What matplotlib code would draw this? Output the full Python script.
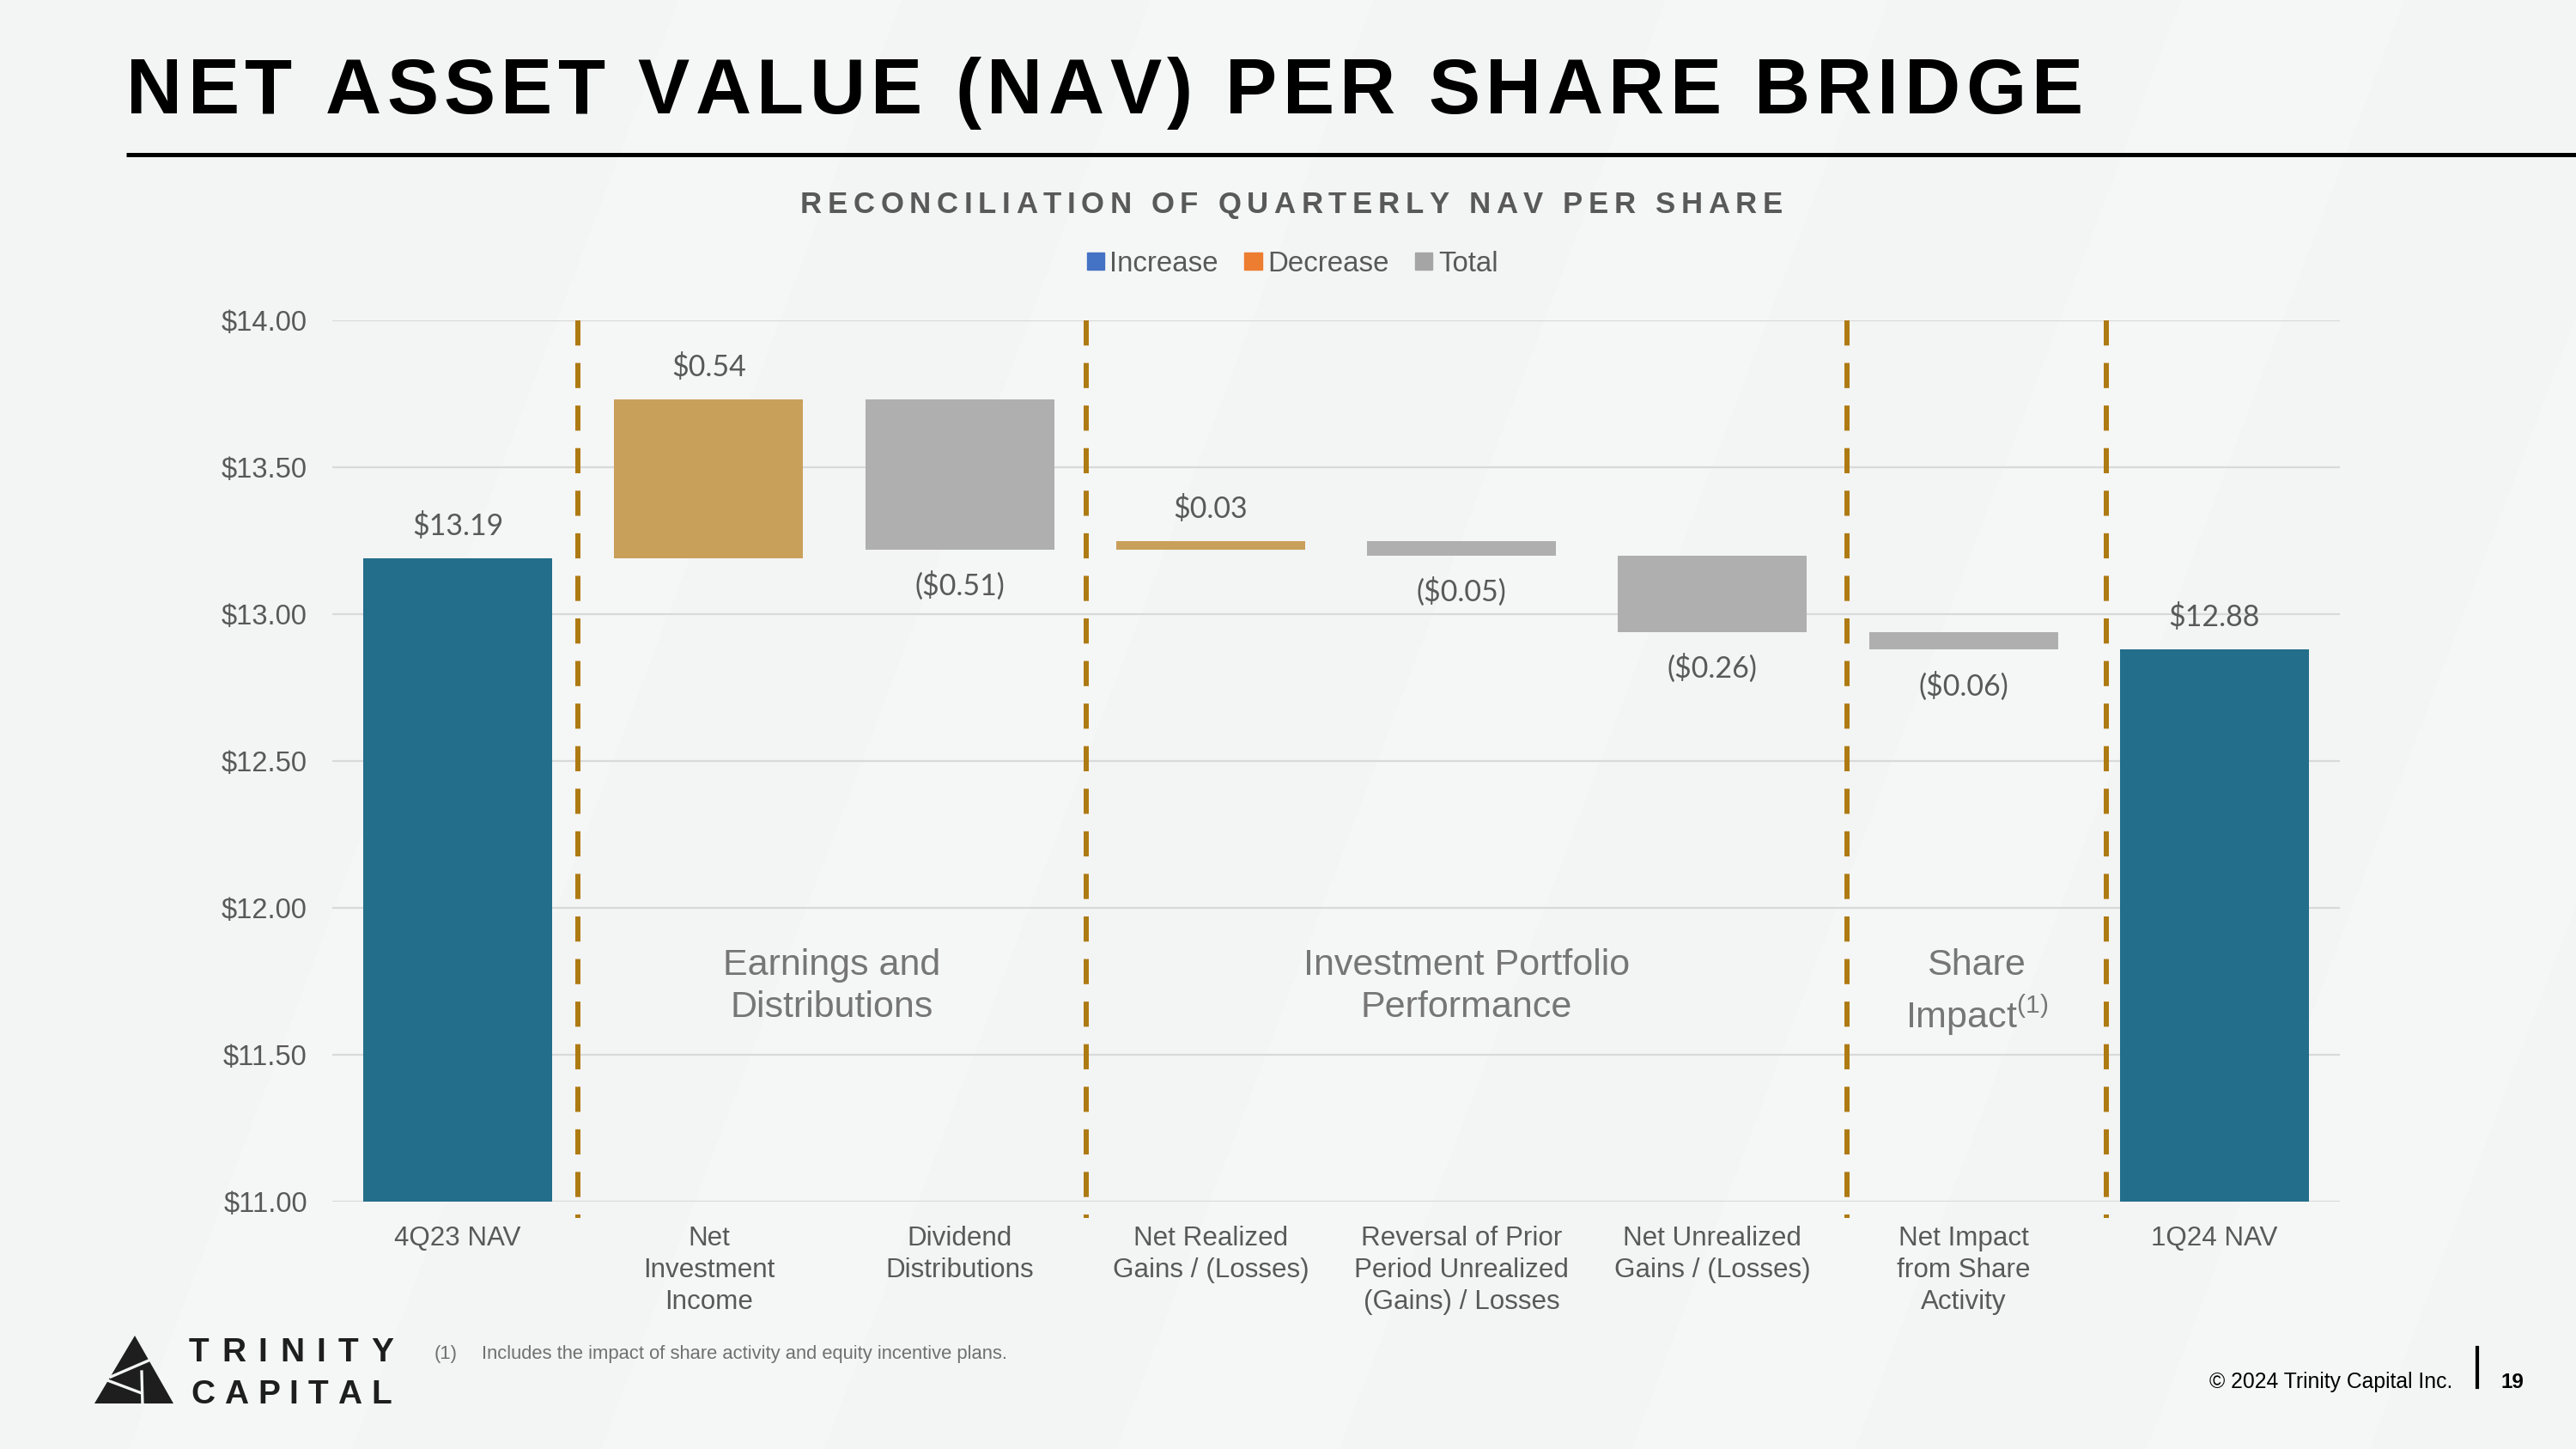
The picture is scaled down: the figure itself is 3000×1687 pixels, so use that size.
import matplotlib.pyplot as plt
from matplotlib.patches import Patch, Polygon
import numpy as np

plt.rcParams['font.family'] = ['Liberation Sans', 'DejaVu Sans']
plt.rcParams['mathtext.fontset'] = 'custom'
plt.rcParams['mathtext.rm'] = 'Liberation Sans'
plt.rcParams['mathtext.it'] = 'Liberation Sans:italic'
plt.rcParams['mathtext.bf'] = 'Liberation Sans:bold'

# данные
categories = ['4Q23 NAV', 'Net\nInvestment\nIncome', 'Dividend\nDistributions',
              'Net Realized\nGains / (Losses)',
              'Reversal of Prior\nPeriod Unrealized\n(Gains) / Losses',
              'Net Unrealized\nGains / (Losses)', 'Net Impact\nfrom Share\nActivity',
              '1Q24 NAV']
start_nav = 13.19
changes = [0.54, -0.51, 0.03, -0.05, -0.26, -0.06]
end_nav = 12.88
groups = ['Earnings and\nDistributions', 'Investment Portfolio\nPerformance',
          'Share\nImpact$^{(1)}$']
y_ticks = [11.0, 11.5, 12.0, 12.5, 13.0, 13.5, 14.0]
legend_labels = ['Increase', 'Decrease', 'Total']

# цвета
TEAL = '#236E8A'
GOLD = '#C9A05A'
GREY = '#AFAFAF'
DASH = '#AE7A12'
TXT = '#595959'
BG = '#F3F4F4'

W, H = 3000, 1687
fig = plt.figure(figsize=(W / 100, H / 100), dpi=100, facecolor=BG)

# слой для оформления в пикселях
deco = fig.add_axes([0, 0, 1, 1], zorder=-1)
deco.set_xlim(0, W)
deco.set_ylim(H, 0)
deco.axis('off')

# светлые диагональные полосы фона
for x0 in [150, 700, 1300, 1900, 2500]:
    deco.add_patch(Polygon([(x0, H), (x0 + 260, H), (x0 + 900, 0), (x0 + 640, 0)],
                           closed=True, color='white', alpha=0.2, lw=0))


def spaced_text(x0, y, s, width, **kw):
    r = fig.canvas.get_renderer()
    items = []
    for ch in s:
        if ch == ' ':
            items.append((None, kw['fontsize'] * 100 / 72 * 0.28))
        else:
            t = deco.text(0, y, ch, va='baseline', ha='left', **kw)
            items.append((t, t.get_window_extent(r).width))
    track = (width - sum(w for _, w in items)) / (len(s) - 1)
    x = x0
    for t, w in items:
        if t is not None:
            t.set_x(x)
        x += w + track


# заголовок
spaced_text(147, 132, 'NET ASSET VALUE (NAV) PER SHARE BRIDGE', 2279,
            fontsize=65, fontweight='bold', color='black')
deco.plot([147, W], [179.5, 179.5], color='black', lw=3.6, solid_capstyle='butt')
spaced_text(932, 248, 'RECONCILIATION OF QUARTERLY NAV PER SHARE', 1144,
            fontsize=25, fontweight='bold', color=TXT)

# логотип
deco.add_patch(Polygon([(157, 1555), (110, 1634), (202, 1634)], closed=True,
                       color='#1E1E1E', lw=0))
for xs, ys in [([129, 173], [1603, 1584]), ([125, 165], [1607, 1622]),
               ([165, 166], [1597, 1636])]:
    deco.plot(xs, ys, color=BG, lw=2.4)
spaced_text(220, 1585, 'TRINITY', 238, fontsize=28, fontweight='bold', color='#1E1E1E')
spaced_text(222, 1634, 'CAPITAL', 234, fontsize=28, fontweight='bold', color='#1E1E1E')

# подвал
deco.text(506, 1582, '(1)', fontsize=15.8, color='#707070', va='baseline')
deco.text(561, 1582, 'Includes the impact of share activity and equity incentive plans.',
          fontsize=15.8, color='#707070', va='baseline')
deco.text(2856, 1616, '\u00a9 2024 Trinity Capital Inc.', fontsize=17.8,
          color='black', ha='right', va='baseline')
deco.plot([2885, 2885], [1569, 1615], color='black', lw=3)
deco.text(2926, 1616, '19', fontsize=17.5, fontweight='bold', color='black',
          ha='center', va='baseline')

# основной график
ax = fig.add_axes([387 / W, 1 - 1399 / H, (2725 - 387) / W, (1399 - 373) / H])
ax.set_facecolor('none')

after = start_nav + np.cumsum(changes)
before = np.concatenate([[start_nav], after[:-1]])
ch = np.array(changes)
heights = np.concatenate([[start_nav], np.abs(ch), [end_nav]])
bottoms = np.concatenate([[0], np.minimum(before, after), [0]])
colors = [TEAL] + [GOLD if c > 0 else GREY for c in changes] + [TEAL]
x = np.arange(len(categories))
ax.bar(x, heights, bottom=bottoms, width=0.753, color=colors, zorder=3)

# подписи значений
values = [start_nav] + changes + [end_nav]
for i, v in enumerate(values):
    if v >= 0:
        txt = '${:.2f}'.format(v)
        y, off = bottoms[i] + heights[i], 27
    else:
        txt = '(${:.2f})'.format(-v)
        y, off = bottoms[i], -30.5
    ax.annotate(txt, (x[i], y), xytext=(0, off), textcoords='offset points',
                ha='center', va='center', fontsize=24.5, color=TXT,
                family=['Lato', 'DejaVu Sans'])

# разделители групп
seps = [0.479, 2.504, 5.535, 6.569]
for s in seps:
    ax.plot([s, s], [14.0, 10.944], color=DASH, lw=4.3, linestyle=(0, (4.9, 3.4)),
            clip_on=False, zorder=4)
mids = [(seps[i] + seps[i + 1]) / 2 for i in range(3)]
for m, g in zip(mids, groups):
    ax.text(m, 11.864, g, ha='center', va='top', fontsize=31,
            color='#767676', linespacing=1.32, zorder=5)

ax.set_xlim(-0.5, 7.5)
ax.set_ylim(11, 14)
ax.set_yticks(y_ticks, ['${:.2f}'.format(t) for t in y_ticks])
ax.set_xticks(x, categories)
ax.tick_params(axis='y', length=0, pad=21, labelsize=23.5, labelcolor=TXT)
ax.tick_params(axis='x', length=0, pad=20, labelsize=22.6, labelcolor=TXT)
plt.setp(ax.get_xticklabels(), linespacing=1.31)
ax.grid(axis='y', color='#D9D9D9', lw=1.6, zorder=0)
for sp in ax.spines.values():
    sp.set_visible(False)

# легенда
handles = [Patch(color=c) for c in ['#4472C4', '#ED7D31', '#A5A5A5']]
fig.legend(handles, legend_labels, loc='center', bbox_to_anchor=(1505 / W, 1 - 307 / H),
           ncol=3, frameon=False, fontsize=23.8, labelcolor=TXT, handlelength=0.61,
           handleheight=0.58, handletextpad=0.2, columnspacing=0.92)

plt.savefig('out.png', dpi=100, facecolor=fig.get_facecolor())
